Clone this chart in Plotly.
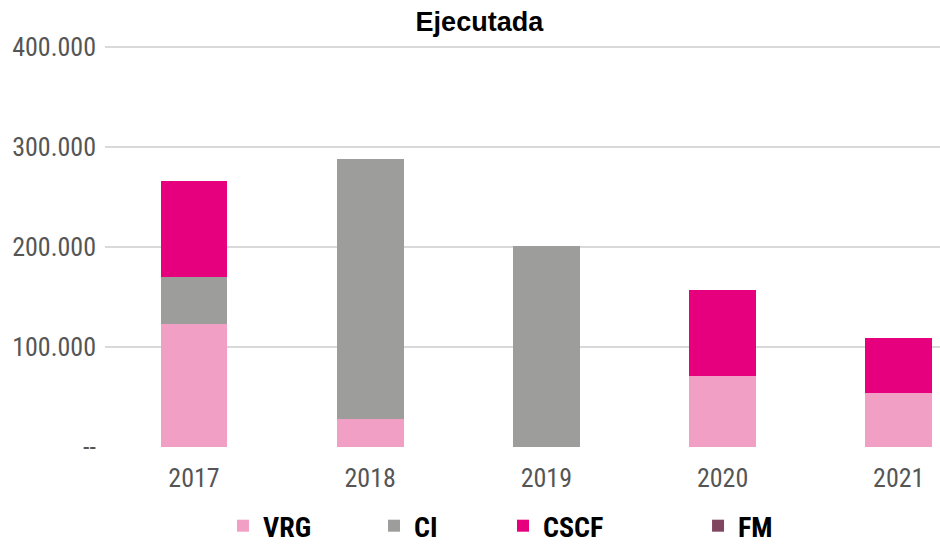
import plotly.graph_objects as go

years = ["2017", "2018", "2019", "2020", "2021"]
vrg = [123000, 28000, 0, 71000, 54000]
ci = [47000, 260000, 201000, 0, 0]
cscf = [96000, 0, 0, 86000, 55000]
fm = [0, 0, 0, 0, 0]

ytick_vals = [0, 100000, 200000, 300000, 400000]
ytick_text = ["--", "100.000", "200.000", "300.000", "400.000"]

series = [
    ("VRG", vrg, "#f29fc5"),
    ("CI", ci, "#9d9d9c"),
    ("CSCF", cscf, "#e6007e"),
    ("FM", fm, "#7f4660"),
]
legend_ids = ["legend", "legend2", "legend3", "legend4"]
legend_x = [0.2372, 0.3979, 0.5351, 0.7426]

FONT = "Roboto Condensed, Roboto, Arial, sans-serif"
TITLE_FONT = "Liberation Sans, Arial, sans-serif"

fig = go.Figure()
for (name, vals, col), lid in zip(series, legend_ids):
    fig.add_trace(go.Bar(
        x=list(range(len(years))), y=vals, name=name,
        marker=dict(color=col, line=dict(width=0)),
        width=0.38, legend=lid,
    ))

legend_common = dict(
    orientation="h", xref="container", xanchor="left", yref="paper", y=-0.1965,
    yanchor="middle", font=dict(family=FONT, size=28, color="#000", weight="bold"),
    itemwidth=30, bgcolor="rgba(0,0,0,0)",
)
layout_legends = {lid: dict(x=lx, **legend_common) for lid, lx in zip(legend_ids, legend_x)}

fig.update_layout(
    barmode="stack",
    width=940, height=546,
    margin=dict(l=105, r=0, t=45, b=99, autoexpand=False),
    plot_bgcolor="white", paper_bgcolor="white",
    title=dict(text="<b>Ejecutada</b>", x=0.51, xanchor="center", y=0.96, yanchor="middle",
               font=dict(family=TITLE_FONT, size=27, color="#000")),
    xaxis=dict(
        tickmode="array", tickvals=list(range(len(years))), ticktext=years,
        range=[-0.505, 4.234], showgrid=False, zeroline=False, showline=False,
        tickfont=dict(family=FONT, size=26, color="#555"), ticks="", ticklabelstandoff=13,
    ),
    yaxis=dict(
        range=[0, 402000], tickmode="array", tickvals=ytick_vals, ticktext=ytick_text,
        showgrid=True, gridcolor="#d9d9d9", gridwidth=2, zeroline=False, showline=False,
        tickfont=dict(family=FONT, size=26, color="#555"), ticks="", ticklabelstandoff=8,
    ),
    showlegend=True,
    **layout_legends,
)

fig.write_html("out.html", config={"displayModeBar": False},
               post_script="document.body.style.margin='0px';")
